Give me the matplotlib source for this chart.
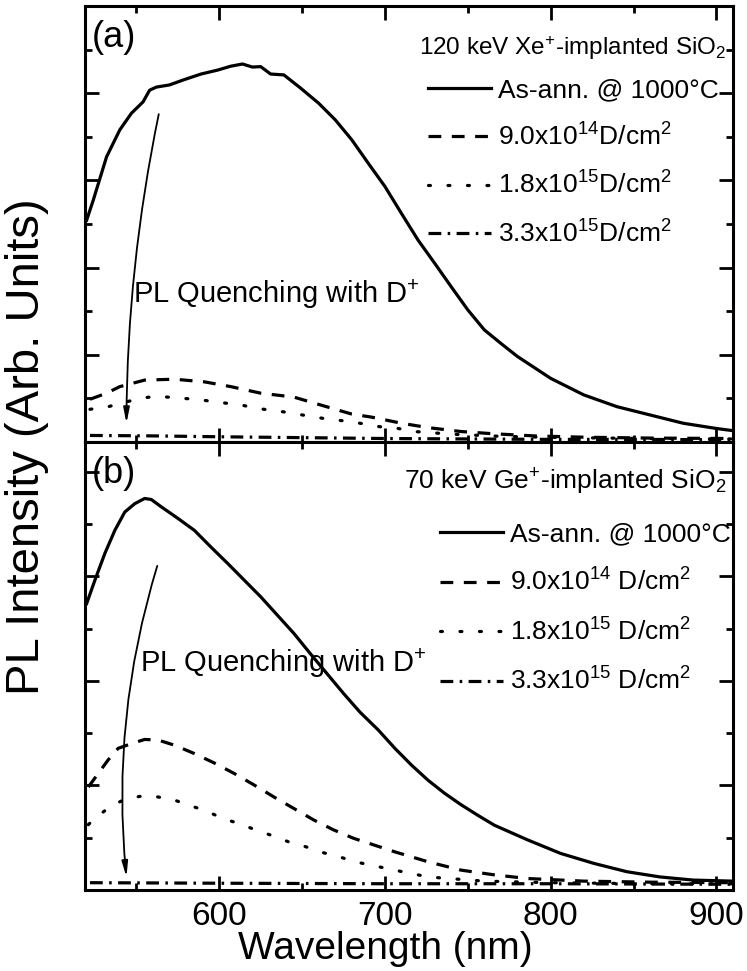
import matplotlib
matplotlib.use("Agg")
import matplotlib.pyplot as plt
from matplotlib.ticker import MultipleLocator

plt.rcParams['font.family'] = ['Liberation Sans', 'DejaVu Sans']
plt.rcParams['mathtext.fontset'] = 'custom'
plt.rcParams['mathtext.rm'] = 'Liberation Sans'

# ---- (a) 120 keV Xe+ implanted SiO2 ----
wl_a_asann = [520, 524, 532, 540, 547, 554, 558, 562, 570, 578, 589, 599, 607, 614, 620,
              625, 631, 639, 649, 660, 670, 680, 690, 700, 710, 720, 730, 740, 750, 760,
              770, 780, 800, 820, 840, 860, 880, 900, 910]
pl_a_asann = [5.09, 5.55, 6.54, 7.16, 7.54, 7.80, 8.07, 8.14, 8.19, 8.30, 8.44, 8.53, 8.62, 8.67, 8.60,
              8.61, 8.44, 8.42, 8.12, 7.77, 7.39, 6.93, 6.39, 5.86, 5.24, 4.63, 4.10, 3.56, 3.03, 2.57,
              2.26, 1.96, 1.46, 1.08, 0.81, 0.62, 0.43, 0.31, 0.26]
wl_a_d1 = [522, 532, 540, 555, 573, 591, 607, 625, 645, 662, 680, 692, 710, 726, 746, 765, 790, 820, 860, 910]
pl_a_d1 = [0.98, 1.12, 1.27, 1.42, 1.44, 1.38, 1.27, 1.12, 1.03, 0.84, 0.64, 0.57, 0.43, 0.33, 0.24,
           0.19, 0.14, 0.11, 0.09, 0.08]
wl_a_d2 = [522, 533, 552, 562, 572, 582, 592, 602, 613, 623, 633, 643, 653, 663, 674, 685, 697, 708,
           718, 740, 770, 810, 860, 910]
pl_a_d2 = [0.75, 0.81, 1.00, 1.05, 1.02, 0.99, 0.95, 0.90, 0.85, 0.77, 0.72, 0.67, 0.60, 0.54, 0.49,
           0.43, 0.35, 0.31, 0.24, 0.18, 0.13, 0.10, 0.08, 0.07]
wl_a_d3 = [522, 560, 600, 650, 700, 750, 800, 850, 910]
pl_a_d3 = [0.15, 0.14, 0.12, 0.10, 0.08, 0.07, 0.06, 0.06, 0.05]

# ---- (b) 70 keV Ge+ implanted SiO2 ----
wl_b_asann = [520, 525, 531, 537, 543, 549, 555, 559, 565, 575, 585, 595, 605, 615, 625, 635, 645,
              655, 665, 675, 685, 696, 706, 716, 726, 736, 746, 756, 766, 786, 806, 826, 846, 866,
              886, 910]
pl_b_asann = [5.48, 5.93, 6.44, 6.88, 7.23, 7.39, 7.49, 7.47, 7.33, 7.11, 6.88, 6.56, 6.25, 5.93,
              5.61, 5.26, 4.91, 4.52, 4.14, 3.76, 3.40, 3.06, 2.71, 2.39, 2.10, 1.85, 1.63, 1.43,
              1.24, 0.96, 0.70, 0.51, 0.35, 0.25, 0.19, 0.17]
wl_b_d1 = [521, 527, 533, 539, 547, 555, 563, 573, 585, 597, 609, 621, 633, 645, 657, 669, 681, 706,
           726, 746, 766, 786, 820, 860, 910]
pl_b_d1 = [1.97, 2.23, 2.49, 2.71, 2.80, 2.88, 2.87, 2.77, 2.61, 2.43, 2.23, 2.01, 1.78, 1.56, 1.34,
           1.15, 0.99, 0.73, 0.54, 0.38, 0.29, 0.22, 0.17, 0.15, 0.14]
wl_b_d2 = [521, 526, 535, 544, 554, 563, 573, 583, 593, 602, 612, 622, 632, 642, 652, 662, 672, 682,
           706, 726, 760, 800, 860, 910]
pl_b_d2 = [1.25, 1.40, 1.61, 1.75, 1.80, 1.78, 1.72, 1.61, 1.50, 1.37, 1.27, 1.15, 1.04, 0.92, 0.83,
           0.72, 0.64, 0.54, 0.38, 0.25, 0.17, 0.14, 0.12, 0.12]
wl_b_d3 = [522, 600, 700, 800, 910]
pl_b_d3 = [0.14, 0.13, 0.12, 0.12, 0.11]

labels_a = ['As-ann. @ 1000°C',
            r'9.0x10$\mathregular{^{14}}$D/cm$\mathregular{^{2}}$',
            r'1.8x10$\mathregular{^{15}}$D/cm$\mathregular{^{2}}$',
            r'3.3x10$\mathregular{^{15}}$D/cm$\mathregular{^{2}}$']
labels_b = ['As-ann. @ 1000°C',
            r'9.0x10$\mathregular{^{14}}$ D/cm$\mathregular{^{2}}$',
            r'1.8x10$\mathregular{^{15}}$ D/cm$\mathregular{^{2}}$',
            r'3.3x10$\mathregular{^{15}}$ D/cm$\mathregular{^{2}}$']
title_a = r'120 keV Xe$\mathregular{^{+}}$-implanted SiO$\mathregular{_{2}}$'
title_b = r'70 keV Ge$\mathregular{^{+}}$-implanted SiO$\mathregular{_{2}}$'

styles = ['-', (0, (4, 3.3)), (0, (0.6, 5.5)), (0, (4, 2, 0.8, 2))]

fig = plt.figure(figsize=(7.47, 9.71), dpi=100)
ax_a = fig.add_axes([0.1138, 0.5448, 0.8674, 0.449])
ax_b = fig.add_axes([0.1138, 0.0834, 0.8674, 0.4614], sharex=ax_a)


def draw_panel(ax, series, labels, title, tag, ylim, legend_anchor, spacing, text_pos,
               arrow_from, arrow_to, rad, title_y, title_size):
    for (x, y), ls in zip(series, styles):
        line, = ax.plot(x, y, color='black', lw=2.3, linestyle=ls)
        if ls == styles[2]:
            line.set_dash_capstyle('round')
    ax.set_xlim(519, 910)
    ax.set_ylim(*ylim)
    ax.xaxis.set_major_locator(MultipleLocator(100))
    ax.xaxis.set_minor_locator(MultipleLocator(50))
    ax.yaxis.set_major_locator(MultipleLocator(2))
    ax.yaxis.set_minor_locator(MultipleLocator(1))
    ax.tick_params(which='both', direction='in', top=True, right=True, width=2)
    ax.tick_params(which='major', length=10, labelsize=24, pad=8)
    ax.tick_params(which='minor', length=5)
    ax.tick_params(axis='y', labelleft=False)
    for sp in ax.spines.values():
        sp.set_linewidth(2.2)
    ax.legend(labels, loc='upper left', bbox_to_anchor=legend_anchor, frameon=False,
              fontsize=19, handlelength=2.4, handletextpad=0.25, labelspacing=spacing,
              borderpad=0, borderaxespad=0)
    ax.text(0.99, title_y, title, transform=ax.transAxes, ha='right', va='baseline',
            fontsize=title_size)
    ax.text(0.011, 0.968, tag, transform=ax.transAxes, ha='left', va='top', fontsize=26)
    ax.text(text_pos[0], text_pos[1], r'PL Quenching with D$\mathregular{^{+}}$', ha='left',
            va='baseline', fontsize=21)
    ax.annotate('', xy=arrow_to, xytext=arrow_from,
                arrowprops=dict(arrowstyle='-|>,head_length=0.9,head_width=0.18', color='black',
                                lw=1.3, shrinkA=0, shrinkB=0,
                                connectionstyle='arc3,rad=%s' % rad))


draw_panel(ax_a,
           [(wl_a_asann, pl_a_asann), (wl_a_d1, pl_a_d1), (wl_a_d2, pl_a_d2), (wl_a_d3, pl_a_d3)],
           labels_a, title_a, '(a)', (0, 10.0), (0.529, 0.834), 0.8, (548, 3.18),
           (563.5, 7.52), (544, 0.43), 0.05, 0.888, 17.5)
draw_panel(ax_b,
           [(wl_b_asann, pl_b_asann), (wl_b_d1, pl_b_d1), (wl_b_d2, pl_b_d2), (wl_b_d3, pl_b_d3)],
           labels_b, title_b, '(b)', (0, 8.57), (0.548, 0.821), 0.85, (552, 4.17),
           (562.6, 6.2), (544, 0.25), 0.1, 0.893, 19)

ax_a.tick_params(axis='x', labelbottom=False)
ax_b.set_xlabel('Wavelength (nm)', fontsize=28)
ax_b.xaxis.set_label_coords(0.463, -0.091)
fig.text(0.036, 0.54, 'PL Intensity (Arb. Units)', rotation=90, ha='center', va='center',
         fontsize=34)

fig.savefig('out.png', dpi=100)
